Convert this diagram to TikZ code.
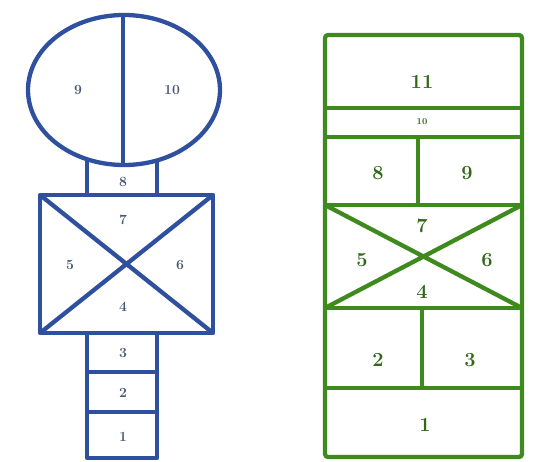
\documentclass[tikz,border=0pt]{standalone}
\usepackage{tikz}
\usetikzlibrary{positioning}
\definecolor{hopblue}{HTML}{2F4F9F}
\definecolor{hopgreen}{HTML}{3F8A1F}
\tikzset{
  blueline/.style ={draw=hopblue, line width=4.3pt, line join=round},
  greenline/.style={draw=hopgreen, line width=4.3pt, line join=round},
  bnum/.style     ={font=\fontsize{14}{14}\selectfont\bfseries, text=hopblue!55!black!80},
  gnum/.style     ={font=\fontsize{20}{20}\selectfont\bfseries, text=hopgreen!75!black},
  gsmall/.style   ={gnum, font=\fontsize{9}{9}\selectfont\bfseries},
}

\begin{document}
\begin{tikzpicture}[x=1pt,y=-1pt]
      \useasboundingbox (0,0) rectangle (541,461);
      % blue court
      \draw[blueline] (124,90) ellipse [x radius=96, y radius=75];
      \draw[blueline] (123,15) -- (123,165);
      \draw[blueline] (87,159) -- (87,195) (157,160) -- (157,195);
      \draw[blueline] (40,195) rectangle (213,333);
      \draw[blueline] (40,195) -- (213,333) (40,333) -- (213,195);
      \draw[blueline] (87,333) -- (87,458) -- (157,458) -- (157,333);
      \foreach \y in {372,412}\draw[blueline] (87,\y) -- (157,\y);
      \node[bnum] (b9)  at (78,90)   {9};
      \node[bnum] (b10) at (172,90)  {10};
      \node[bnum] (b8)  at (123,182) {8};
      \node[bnum] (b7)  at (123,220) {7};
      \node[bnum] (b5)  at (70,265)  {5};
      \node[bnum] (b6)  at (180,265) {6};
      \node[bnum] (b4)  at (123,307) {4};
      \node[bnum] (b3)  at (123,353) {3};
      \node[bnum] (b2)  at (123,393) {2};
      \node[bnum] (b1)  at (123,437) {1};
      % green court
      \draw[greenline, rounded corners=3pt] (325,35) rectangle (522,457);
      \foreach \y in {108,137,205,308,388}\draw[greenline] (325,\y) -- (522,\y);
      \draw[greenline] (418,137) -- (418,205);
      \draw[greenline] (422,308) -- (422,388);
      \draw[greenline] (325,205) -- (522,308) (325,308) -- (522,205);
      \node[gnum]   (g11) at (422,82)  {11};
      \node[gsmall] (g10) at (422,122) {10};
      \node[gnum]   (g8)  at (378,173) {8};
      \node[gnum]   (g9)  at (467,173) {9};
      \node[gnum]   (g7)  at (422,226) {7};
      \node[gnum]   (g5)  at (362,260) {5};
      \node[gnum]   (g6)  at (487,260) {6};
      \node[gnum]   (g4)  at (422,292) {4};
      \node[gnum]   (g2)  at (378,360) {2};
      \node[gnum]   (g3)  at (470,360) {3};
      \node[gnum]   (g1)  at (425,425) {1};
    \end{tikzpicture}
\end{document}
